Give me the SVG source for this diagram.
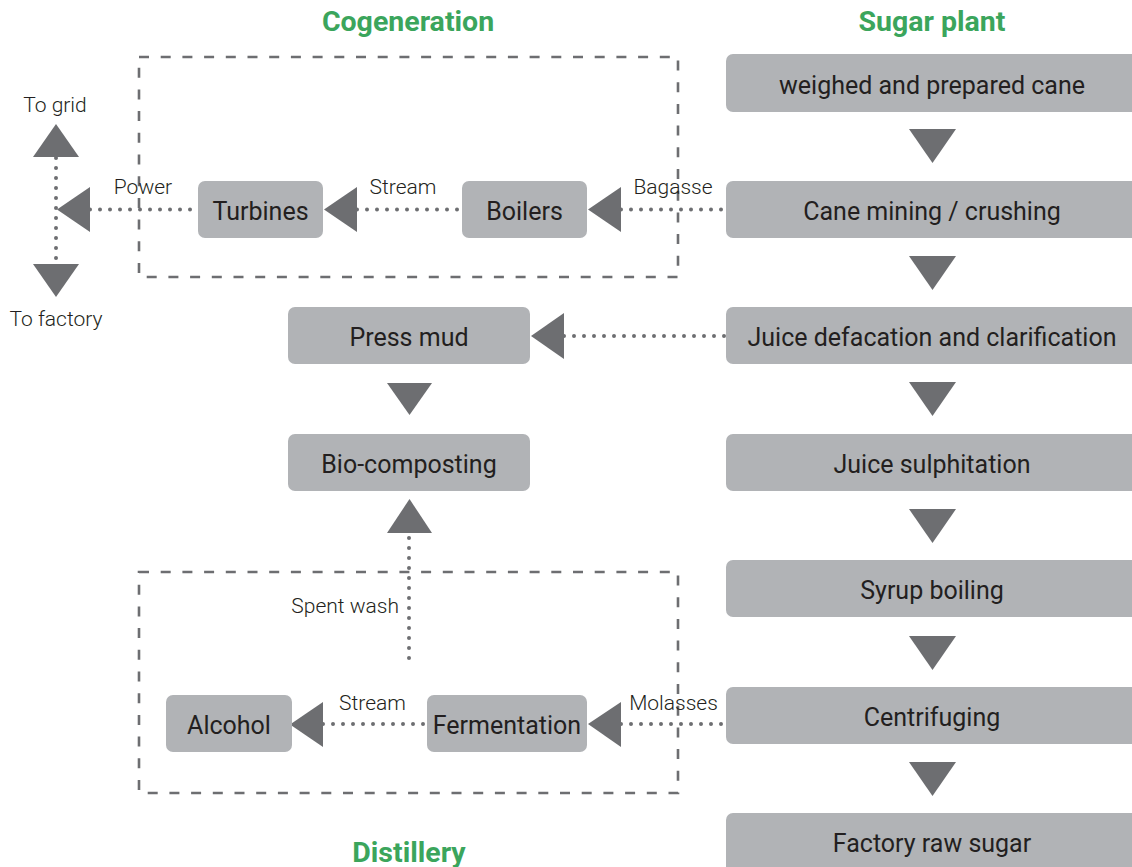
<svg xmlns="http://www.w3.org/2000/svg" width="1132" height="867" viewBox="0 0 1132 867">
<style>
.box{fill:#b1b3b6}
.tri{fill:#6d6e71}
.frame{fill:none;stroke:#6d6e71;stroke-width:2.6;stroke-dasharray:10 11.7}
.dot{fill:none;stroke:#6d6e71;stroke-width:4;stroke-linecap:round;stroke-dasharray:0 10}
.t{font-family:Roboto,"Open Sans",sans-serif;font-size:25px;fill:#231f20;text-anchor:middle}
.l{font-family:Roboto,"Open Sans",sans-serif;font-size:21px;font-weight:300;fill:#231f20;text-anchor:middle}
.h{font-family:Roboto,"Open Sans",sans-serif;font-size:28.5px;font-weight:700;fill:#3ba55c;text-anchor:middle}
</style>
<rect width="1132" height="867" fill="#ffffff"/>
<g id="headers">
<text class="h" x="408" y="31">Cogeneration</text>
<text class="h" x="932" y="31">Sugar plant</text>
<text class="h" x="409" y="862">Distillery</text>
</g>
<g id="frames">
<rect class="frame" x="139" y="57" width="539" height="220"/>
<rect class="frame" x="139" y="572" width="539" height="221"/>
</g>
<g id="connectors">
<path class="dot" d="M90 209.5H198M357 209.5H462M621 209.5H726"/>
<path class="dot" d="M56 158V264"/>
<path class="dot" d="M564 336H726"/>
<path class="dot" d="M409 538V668"/>
<path class="dot" d="M323 724H427M621 724H726"/>
<polygon class="tri" points="57,209.5 90,187 90,232"/>
<polygon class="tri" points="324,209.5 357,187 357,232"/>
<polygon class="tri" points="588,209.5 621,187 621,232"/>
<polygon class="tri" points="56,124 79,157 33,157"/>
<polygon class="tri" points="56,297 79,264 33,264"/>
<polygon class="tri" points="531,336 564,313 564,359"/>
<polygon class="tri" points="409.5,415 432,383 387,383"/>
<polygon class="tri" points="409.5,499 432,533 387,533"/>
<polygon class="tri" points="290,724.5 323,702 323,747"/>
<polygon class="tri" points="588,724 621,702 621,747"/>
<polygon class="tri" points="932.5,163 956,129 909,129"/>
<polygon class="tri" points="932.5,290 956,256 909,256"/>
<polygon class="tri" points="932.5,416 956,382 909,382"/>
<polygon class="tri" points="932.5,543 956,509 909,509"/>
<polygon class="tri" points="932.5,670 956,636 909,636"/>
<polygon class="tri" points="932.5,796 956,762 909,762"/>
</g>
<g id="labels">
<text class="l" x="55" y="112">To grid</text>
<text class="l" x="56" y="326">To factory</text>
<text class="l" x="143" y="194">Power</text>
<text class="l" x="403" y="194">Stream</text>
<text class="l" x="673" y="194">Bagasse</text>
<text class="l" x="399" y="613" style="text-anchor:end">Spent wash</text>
<text class="l" x="372.5" y="710">Stream</text>
<text class="l" x="673.5" y="710">Molasses</text>
</g>
<g id="node-weighed"><rect class="box" x="726" y="54" width="420" height="58" rx="7"/><text class="t" x="932" y="93.5">weighed and prepared cane</text></g>
<g id="node-crushing"><rect class="box" x="726" y="181" width="420" height="57" rx="7"/><text class="t" x="932" y="220">Cane mining / crushing</text></g>
<g id="node-clarification"><rect class="box" x="726" y="307" width="420" height="57" rx="7"/><text class="t" x="932" y="346">Juice defacation and clarification</text></g>
<g id="node-sulphitation"><rect class="box" x="726" y="434" width="420" height="57" rx="7"/><text class="t" x="932" y="473">Juice sulphitation</text></g>
<g id="node-syrup"><rect class="box" x="726" y="560" width="420" height="57" rx="7"/><text class="t" x="932" y="599">Syrup boiling</text></g>
<g id="node-centrifuging"><rect class="box" x="726" y="687" width="420" height="57" rx="7"/><text class="t" x="932" y="726">Centrifuging</text></g>
<g id="node-rawsugar"><rect class="box" x="726" y="813" width="420" height="60" rx="7"/><text class="t" x="932" y="852">Factory raw sugar</text></g>
<g id="node-turbines"><rect class="box" x="198" y="181" width="125" height="57" rx="7"/><text class="t" x="260.5" y="220">Turbines</text></g>
<g id="node-boilers"><rect class="box" x="462" y="181" width="125" height="57" rx="7"/><text class="t" x="524.5" y="220">Boilers</text></g>
<g id="node-pressmud"><rect class="box" x="288" y="307" width="242" height="57" rx="7"/><text class="t" x="409" y="346">Press mud</text></g>
<g id="node-biocomposting"><rect class="box" x="288" y="434" width="242" height="57" rx="7"/><text class="t" x="409" y="473">Bio-composting</text></g>
<g id="node-alcohol"><rect class="box" x="166" y="695" width="126" height="57" rx="7"/><text class="t" x="229" y="734">Alcohol</text></g>
<g id="node-fermentation"><rect class="box" x="427" y="695" width="160" height="57" rx="7"/><text class="t" x="507" y="734">Fermentation</text></g>
</svg>
